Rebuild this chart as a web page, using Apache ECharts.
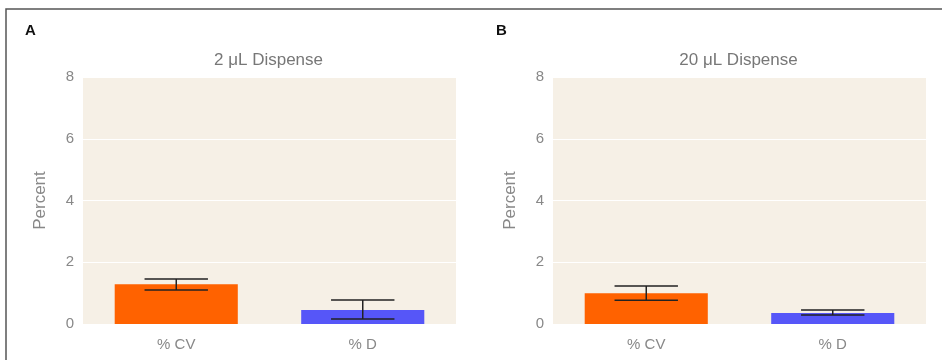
<!DOCTYPE html>
<html>
<head>
<meta charset="utf-8">
<script src="https://cdn.jsdelivr.net/npm/echarts@6/dist/echarts.min.js"></script>
<style>html,body{margin:0;padding:0;background:#fff;}#c{width:942px;height:360px;}</style>
</head>
<body>
<div id="c"></div>
<script>
const categories = ['% CV', '% D'];
const panelLabels = ['A', 'B'];
const panelTitles = ['2 μL Dispense', '20 μL Dispense'];
const valuesA = [1.29, 0.45];
const errLowA = [1.10, 0.16];
const errHighA = [1.46, 0.78];
const valuesB = [1.00, 0.36];
const errLowB = [0.77, 0.29];
const errHighB = [1.23, 0.45];
const yTicks = [0, 2, 4, 6, 8];

const barColors = ['#FF6200', '#5656F8'];
const grids = [
  {left: 83, top: 77, width: 373, height: 247},
  {left: 553, top: 77, width: 373, height: 247}
];

function errSeries(idx, low, high) {
  return {
    type: 'custom', xAxisIndex: idx, yAxisIndex: idx, z: 5,
    data: categories.map((c, i) => [i, low[i], high[i]]),
    renderItem: function (params, api) {
      const x = api.value(0);
      const lo = api.coord([x, api.value(1)]);
      const hi = api.coord([x, api.value(2)]);
      const hw = api.size([1, 0])[0] * 0.17;
      const st = {stroke: '#222', lineWidth: 1.5};
      return {type: 'group', children: [
        {type: 'line', shape: {x1: lo[0], y1: lo[1], x2: hi[0], y2: hi[1]}, style: st},
        {type: 'line', shape: {x1: lo[0]-hw, y1: lo[1], x2: lo[0]+hw, y2: lo[1]}, style: st},
        {type: 'line', shape: {x1: hi[0]-hw, y1: hi[1], x2: hi[0]+hw, y2: hi[1]}, style: st}
      ]};
    }
  };
}
function barSeries(idx, vals) {
  return {
    type: 'bar', xAxisIndex: idx, yAxisIndex: idx, barWidth: '66%',
    data: vals.map((v, i) => ({value: v, itemStyle: {color: barColors[i]}}))
  };
}

const chart = echarts.init(document.getElementById('c'), null, {renderer: 'canvas'});
const fontFam = 'Liberation Sans, Arial, sans-serif';
chart.setOption({
  animation: false,
  textStyle: {fontFamily: fontFam},
  title: panelTitles.map((t, i) => ({
    text: t, left: grids[i].left + grids[i].width / 2 - 6, top: 47, textAlign: 'center',
    textStyle: {color: '#777', fontSize: 17, fontWeight: 'normal', fontFamily: fontFam}
  })),
  grid: grids.map(g => Object.assign({show: true, backgroundColor: '#F6F0E6', borderWidth: 0}, g)),
  xAxis: grids.map((g, i) => ({
    type: 'category', gridIndex: i, data: categories,
    axisLine: {show: false}, axisTick: {show: false},
    axisLabel: {color: '#888', fontSize: 15, margin: 13}
  })),
  yAxis: grids.map((g, i) => ({
    type: 'value', gridIndex: i, min: yTicks[0], max: yTicks[yTicks.length - 1], interval: 2,
    axisLine: {show: false}, axisTick: {show: false},
    axisLabel: {color: '#888', fontSize: 15, margin: 9},
    splitLine: {lineStyle: {color: '#ffffff', width: 1}},
    name: 'Percent', nameLocation: 'middle', nameGap: 34,
    nameTextStyle: {color: '#888', fontSize: 17}
  })),
  graphic: [
    {type: 'rect', shape: {x: 6, y: 9, width: 1000, height: 400}, style: {fill: 'none', stroke: '#555', lineWidth: 1.5}},
    {type: 'text', left: 25, top: 23, style: {text: panelLabels[0], fill: '#111', font: 'bold 15px ' + fontFam}},
    {type: 'text', left: 496, top: 23, style: {text: panelLabels[1], fill: '#111', font: 'bold 15px ' + fontFam}}
  ],
  series: [
    barSeries(0, valuesA), errSeries(0, errLowA, errHighA),
    barSeries(1, valuesB), errSeries(1, errLowB, errHighB)
  ]
});
</script>
</body>
</html>
